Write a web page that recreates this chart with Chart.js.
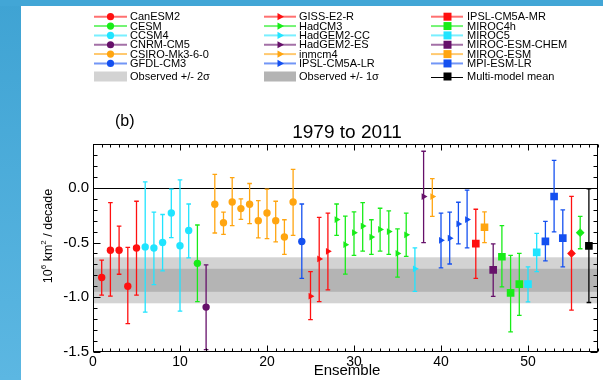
<!DOCTYPE html>
<html><head><meta charset="utf-8">
<script src="https://cdn.jsdelivr.net/npm/chart.js@4/dist/chart.umd.min.js"></script>
<style>html,body{margin:0;padding:0;background:#fff;overflow:hidden}canvas{display:block}</style>
</head><body>
<canvas id="c" width="603" height="380"></canvas>
<script>
// ---------- DATA ----------
const modelNames = ["CanESM2","CESM","CCSM4","CNRM-CM5","CSIRO-Mk3-6-0","GFDL-CM3",
  "GISS-E2-R","HadCM3","HadGEM2-CC","HadGEM2-ES","inmcm4","IPSL-CM5A-LR",
  "IPSL-CM5A-MR","MIROC4h","MIROC5","MIROC-ESM-CHEM","MIROC-ESM","MPI-ESM-LR",
  "Other model 1","Other model 2","Multi-model mean"];
const modelColors = ["#ff1010","#18ec18","#20e4ff","#66106a","#ffa510","#1450f0",
  "#ff1010","#18ec18","#20e4ff","#66106a","#ffa510","#1450f0",
  "#ff1010","#18ec18","#20e4ff","#66106a","#ffa510","#1450f0",
  "#ff1010","#18ec18","#000000"];
const modelMarkers = ["circle","circle","circle","circle","circle","circle",
  "triangle","triangle","triangle","triangle","triangle","triangle",
  "rect","rect","rect","rect","rect","rect","rectRot","rectRot","rect"];
const legendModels = [0,1,2,3,4,5,6,7,8,9,10,11,12,13,14,15,16,17];
const meanModel = 20;
const obsLabels = ["Observed +/- 2\u03c3","Observed +/- 1\u03c3"];

const ensemble = [1,2,3,4,5,6,7,8,9,10,11,12,13,14,15,16,17,18,19,20,21,22,23,24,25,26,27,28,29,30,
  31,32,33,34,35,36,37,38,39,40,41,42,43,44,45,46,47,48,49,50,51,52,53,54,55,56,57];
const ensembleModel = [0,0,0,0,0, 2,2,2,2,2,2, 1, 3, 4,4,4,4,4,4,4,4,4,4, 5,
  6,6,6, 7,7,7,7,7,7,7,7,7, 8, 9, 10, 11,11,11,11,
  12, 16, 15, 13,13,13, 14,14, 17,17,17, 18, 19, 20];
const trend = [-0.82,-0.57,-0.57,-0.90,-0.55, -0.54,-0.55,-0.50,-0.23,-0.53,-0.39, -0.69, -1.09,
  -0.15,-0.32,-0.13,-0.19,-0.15,-0.30,-0.23,-0.30,-0.45,-0.13, -0.49,
  -0.99,-0.65,-0.58, -0.29,-0.52,-0.41,-0.35,-0.45,-0.38,-0.40,-0.60,-0.43, -0.74, -0.08, -0.08,
  -0.48,-0.46,-0.33,-0.29, -0.51, -0.36, -0.75, -0.63,-0.96,-0.88, -0.88,-0.59, -0.49,-0.08,-0.46,
  -0.60, -0.41, -0.53];
const upper = [-0.66,-0.135,-0.35,-0.545,-0.123, 0.054,-0.223,-0.244,-0.012,0.072,-0.148, -0.34, -0.705,
  0.123,-0.223,0.093,-0.102,0.039,-0.117,-0.012,-0.123,-0.292,0.169, -0.148,
  -0.765,-0.271,-0.232, -0.148,-0.259,-0.22,-0.135,-0.292,-0.187,-0.211,-0.376,-0.232, -0.548, 0.334, 0.084,
  -0.232,-0.223,-0.132,-0.021, -0.196, -0.22, -0.512, -0.346,-0.617,-0.599, -0.723,-0.416, -0.307,0.25,-0.202,
  -0.078, -0.262, -0.009];
const lower = [-0.98,-0.99,-0.79,-1.24,-0.98, -1.135,-0.885,-0.759,-0.455,-1.126,-0.641, -1.04, -1.478,
  -0.413,-0.425,-0.346,-0.289,-0.328,-0.458,-0.464,-0.494,-0.608,-0.434, -0.828,
  -1.204,-1.039,-0.933, -0.434,-0.789,-0.617,-0.578,-0.608,-0.578,-0.608,-0.816,-0.626, -0.946, -0.5, -0.262,
  -0.732,-0.696,-0.512,-0.548, -0.828, -0.5, -0.991, -0.906,-1.316,-1.165, -1.042,-0.765, -0.668,-0.403,-0.723,
  -1.117, -0.557, -1.048];
const observedTrend = -0.845;
const observedSigma = 0.105;
const xTickValues = [0,10,20,30,40,50];
const yTickValues = [-1.5,-1.0,-0.5,0.0];
const yTickLabels = ["-1.5","-1.0","-0.5","0.0"];
const chartTitle = "1979 to 2011";
const panelLabel = "(b)";
const xTitle = "Ensemble";

// ---------- BUILD DATASETS ----------
const FONT = "'Liberation Sans', Arial, Helvetica, sans-serif";
const datasets = [];
modelNames.forEach((name, m) => {
  const pts = [];
  ensemble.forEach((e, i) => { if (ensembleModel[i] === m) pts.push({x: e, y: trend[i], hi: upper[i], lo: lower[i]}); });
  if (!pts.length) return;
  const mk = modelMarkers[m];
  datasets.push({
    label: name, data: pts,
    pointStyle: mk,
    rotation: mk === 'triangle' ? 90 : 0,
    pointRadius: mk === 'circle' ? 3.7 : mk === 'triangle' ? 3.9 : mk === 'rect' ? 5.4 : 4.4,
    backgroundColor: modelColors[m], borderColor: modelColors[m], borderWidth: 0,
    showLine: false
  });
});

function drawMarker(ctx, mk, x, y) {
  ctx.beginPath();
  if (mk === 'circle') ctx.arc(x, y, 3.6, 0, Math.PI * 2);
  else if (mk === 'triangle') { ctx.moveTo(x + 4, y); ctx.lineTo(x - 2.5, y - 3.6); ctx.lineTo(x - 2.5, y + 3.6); ctx.closePath(); }
  else ctx.rect(x - 4, y - 4, 8, 8);
  ctx.fill();
}

const drawPlugin = {
  id: 'drawPlugin',
  beforeDraw(chart) {
    const ctx = chart.ctx;
    ctx.save();
    ctx.fillStyle = '#ffffff';
    ctx.fillRect(0, 0, 603, 380);
    const g = ctx.createLinearGradient(0, 0, 0, 380);
    g.addColorStop(0, '#3fa3d3'); g.addColorStop(1, '#5cb7e2');
    ctx.fillStyle = g;
    ctx.fillRect(0, 0, 21, 380);
    ctx.fillStyle = '#42a6d6';
    ctx.fillRect(0, 0, 603, 6);
    ctx.restore();
  },
  beforeDatasetsDraw(chart) {
    const ctx = chart.ctx, a = chart.chartArea, xs = chart.scales.x, ys = chart.scales.y;
    ctx.save();
    ctx.beginPath(); ctx.rect(a.left, a.top, a.right - a.left, a.bottom - a.top); ctx.clip();
    const y2a = ys.getPixelForValue(observedTrend + 2 * observedSigma), y2b = ys.getPixelForValue(observedTrend - 2 * observedSigma);
    const y1a = ys.getPixelForValue(observedTrend + observedSigma), y1b = ys.getPixelForValue(observedTrend - observedSigma);
    ctx.fillStyle = '#d3d3d3'; ctx.fillRect(a.left, y2a, a.right - a.left, y2b - y2a);
    ctx.fillStyle = '#b4b4b4'; ctx.fillRect(a.left, y1a, a.right - a.left, y1b - y1a);
    const y0 = Math.round(ys.getPixelForValue(0)) + 0.5;
    ctx.strokeStyle = '#000'; ctx.lineWidth = 1;
    ctx.beginPath(); ctx.moveTo(a.left, y0); ctx.lineTo(a.right, y0); ctx.stroke();
    ctx.lineWidth = 1.3;
    chart.data.datasets.forEach(ds => {
      ctx.strokeStyle = ds.borderColor;
      ds.data.forEach(p => {
        const x = xs.getPixelForValue(p.x), yh = ys.getPixelForValue(p.hi), yl = ys.getPixelForValue(p.lo);
        ctx.beginPath();
        ctx.moveTo(x, yh); ctx.lineTo(x, yl);
        ctx.moveTo(x - 2.3, yh); ctx.lineTo(x + 2.3, yh);
        ctx.moveTo(x - 2.3, yl); ctx.lineTo(x + 2.3, yl);
        ctx.stroke();
      });
    });
    ctx.restore();
  },
  afterDatasetsDraw(chart) {
    const ctx = chart.ctx, a = chart.chartArea, xs = chart.scales.x, ys = chart.scales.y;
    ctx.save();
    ctx.strokeStyle = '#000'; ctx.lineWidth = 1;
    const L = Math.round(a.left) + 0.5, R = Math.round(a.right) - 0.5, T = Math.round(a.top) + 0.5, B = Math.round(a.bottom) - 0.5;
    ctx.strokeRect(L, T, R - L, B - T);
    ctx.beginPath();
    for (let v = xs.min; v <= xs.max + 1e-9; v += 1) {
      const x = Math.round(xs.getPixelForValue(v)) + 0.5;
      const len = (Math.abs(v % 10) < 1e-9) ? 6 : 3;
      ctx.moveTo(x, B); ctx.lineTo(x, B - len);
      ctx.moveTo(x, T); ctx.lineTo(x, T + len);
    }
    for (let k = -15; k <= 4; k++) {
      const v = k / 10;
      const y = Math.round(ys.getPixelForValue(v)) + 0.5;
      const len = (k % 5 === 0) ? 7 : 4;
      ctx.moveTo(L, y); ctx.lineTo(L + len, y);
      ctx.moveTo(R, y); ctx.lineTo(R - len, y);
    }
    ctx.stroke();
    ctx.restore();
  },
  afterDraw(chart) {
    const ctx = chart.ctx;
    ctx.save();
    ctx.fillStyle = '#000';
    ctx.textBaseline = 'middle';
    ctx.textAlign = 'center';
    ctx.font = '19px ' + FONT;
    ctx.fillText(chartTitle, 347, 133);
    ctx.textAlign = 'left';
    ctx.font = '16px ' + FONT;
    ctx.fillText(panelLabel, 115, 122);
    ctx.textAlign = 'center';
    ctx.font = '15px ' + FONT;
    ctx.fillText(xTitle, 347, 371);
    // y title
    ctx.save();
    ctx.translate(49, 236);
    ctx.rotate(-Math.PI / 2);
    const parts = [["10", 12.5, 0], ["6", 8, -5], [" km", 12.5, 0], ["2", 8, -5], [" / decade", 12.5, 0]];
    let w = 0;
    parts.forEach(p => { ctx.font = p[1] + 'px ' + FONT; w += ctx.measureText(p[0]).width; });
    let x = -w / 2;
    ctx.textAlign = 'left';
    parts.forEach(p => { ctx.font = p[1] + 'px ' + FONT; ctx.fillText(p[0], x, p[2]); x += ctx.measureText(p[0]).width; });
    ctx.restore();
    // legend
    const cols = [{l: 94, r: 127, m: 110.5, t: 130}, {l: 264, r: 296, m: 280, t: 299}, {l: 431, r: 463, m: 447.5, t: 467}];
    const rowY = k => 16.7 + k * 9.35;
    ctx.font = '11px ' + FONT;
    ctx.textAlign = 'left';
    legendModels.forEach((m, i) => {
      const c = cols[Math.floor(i / 6)];
      const y = rowY(i % 6);
      const col = modelColors[m];
      ctx.save();
      ctx.strokeStyle = col; ctx.globalAlpha = 0.6; ctx.lineWidth = 2;
      ctx.beginPath(); ctx.moveTo(c.l, y); ctx.lineTo(c.r, y); ctx.stroke();
      ctx.restore();
      ctx.fillStyle = col;
      drawMarker(ctx, modelMarkers[m], c.m, y);
      ctx.fillStyle = '#000';
      ctx.fillText(modelNames[m], c.t, y + 0.5);
    });
    const obsY = 76.5;
    // multi-model mean
    {
      const c = cols[2];
      ctx.strokeStyle = '#000'; ctx.lineWidth = 1;
      ctx.beginPath(); ctx.moveTo(c.l, Math.round(obsY) + 0.5); ctx.lineTo(c.r, Math.round(obsY) + 0.5); ctx.stroke();
      ctx.fillStyle = '#000';
      drawMarker(ctx, 'rect', c.m, obsY);
      ctx.fillText(modelNames[meanModel], c.t, obsY + 0.5);
    }
    // observed boxes
    [[cols[0], '#d3d3d3', obsLabels[0]], [cols[1], '#b4b4b4', obsLabels[1]]].forEach(o => {
      ctx.fillStyle = o[1];
      ctx.fillRect(o[0].l, obsY - 5, o[0].r - o[0].l, 10);
      ctx.fillStyle = '#000';
      ctx.fillText(o[2], o[0].t, obsY + 0.5);
    });
    ctx.restore();
  }
};

new Chart(document.getElementById('c'), {
  type: 'scatter',
  data: { datasets },
  options: {
    responsive: false, animation: false, devicePixelRatio: 1,
    layout: { padding: { left: 0, right: 3, top: 144, bottom: 0 } },
    plugins: { legend: { display: false }, tooltip: { enabled: false }, title: { display: false } },
    scales: {
      x: {
        type: 'linear', min: 0, max: 58,
        grid: { display: false, drawTicks: false }, border: { display: false },
        afterBuildTicks: s => { s.ticks = xTickValues.map(v => ({ value: v })); },
        afterFit: s => { s.height = 28; },
        ticks: { padding: 2, color: '#000', font: { family: FONT, size: 14 }, maxRotation: 0, autoSkip: false,
          callback: v => String(v) }
      },
      y: {
        type: 'linear', min: -1.5, max: 0.4,
        grid: { display: false, drawTicks: false }, border: { display: false },
        afterBuildTicks: s => { s.ticks = yTickValues.map(v => ({ value: v })); },
        afterFit: s => { s.width = 93; },
        ticks: { padding: 4, color: '#000', font: { family: FONT, size: 15 }, autoSkip: false,
          callback: (v) => { const i = yTickValues.indexOf(v); return i >= 0 ? yTickLabels[i] : ''; } }
      }
    }
  },
  plugins: [drawPlugin]
});
</script>
</body></html>
